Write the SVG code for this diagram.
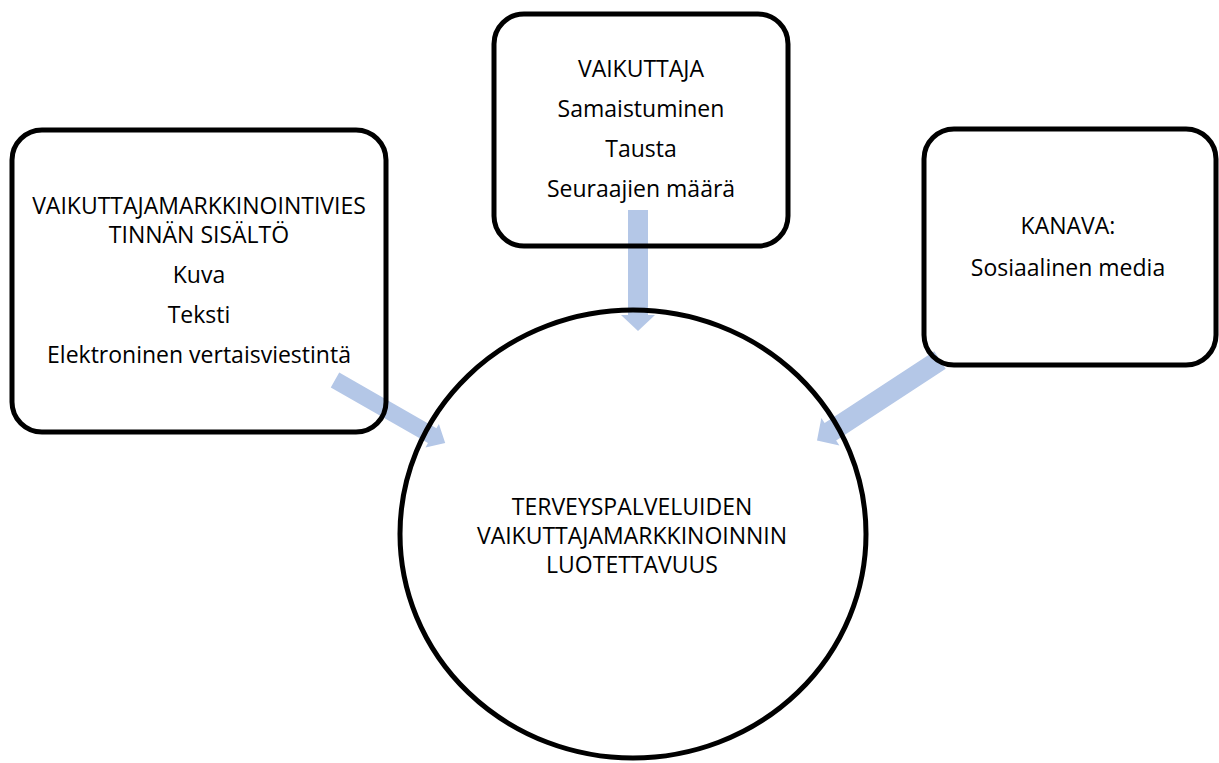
<svg xmlns="http://www.w3.org/2000/svg" width="1219" height="763" viewBox="0 0 1219 763">
<style>
.shape{fill:none;stroke:#000;stroke-width:5}
.arrow{fill:#B4C7E7;stroke:none}
text{font-family:"Open Sans","Liberation Sans",sans-serif;font-size:23px;fill:#000;text-anchor:middle}
</style>
<rect width="1219" height="763" fill="#fff"/>
<g id="connectors">
<polygon class="arrow" transform="translate(638,210) rotate(90)" points="0,-10 105,-10 105,-17 121,0 105,17 105,10 0,10"/>
<polygon class="arrow" transform="translate(335,380) rotate(29.8)" points="0,-8.5 112,-8.5 112,-13.5 127,0 112,13.5 112,8.5 0,8.5"/>
<polygon class="arrow" transform="translate(940,360) rotate(146.8)" points="0,-10.5 131,-10.5 131,-16.5 147,0 131,16.5 131,10.5 0,10.5"/>
</g>
<g id="node-content">
<rect class="shape" x="12" y="130" width="374" height="302" rx="30"/>
<text x="199" y="214">VAIKUTTAJAMARKKINOINTIVIES</text>
<text x="199" y="243">TINNÄN SISÄLTÖ</text>
<text x="199" y="283">Kuva</text>
<text x="199" y="323">Teksti</text>
<text x="199" y="363">Elektroninen vertaisviestintä</text>
</g>
<g id="node-influencer">
<rect class="shape" x="494" y="14" width="294" height="232" rx="30"/>
<text x="641" y="77">VAIKUTTAJA</text>
<text x="641" y="117">Samaistuminen</text>
<text x="641" y="157">Tausta</text>
<text x="641" y="197">Seuraajien määrä</text>
</g>
<g id="node-channel">
<rect class="shape" x="924" y="129" width="292" height="236" rx="30"/>
<text x="1068" y="234">KANAVA:</text>
<text x="1068" y="276">Sosiaalinen media</text>
</g>
<g id="node-trust">
<ellipse class="shape" cx="633" cy="534" rx="233" ry="224"/>
<text x="632" y="515">TERVEYSPALVELUIDEN</text>
<text x="632" y="544">VAIKUTTAJAMARKKINOINNIN</text>
<text x="632" y="573">LUOTETTAVUUS</text>
</g>
</svg>
